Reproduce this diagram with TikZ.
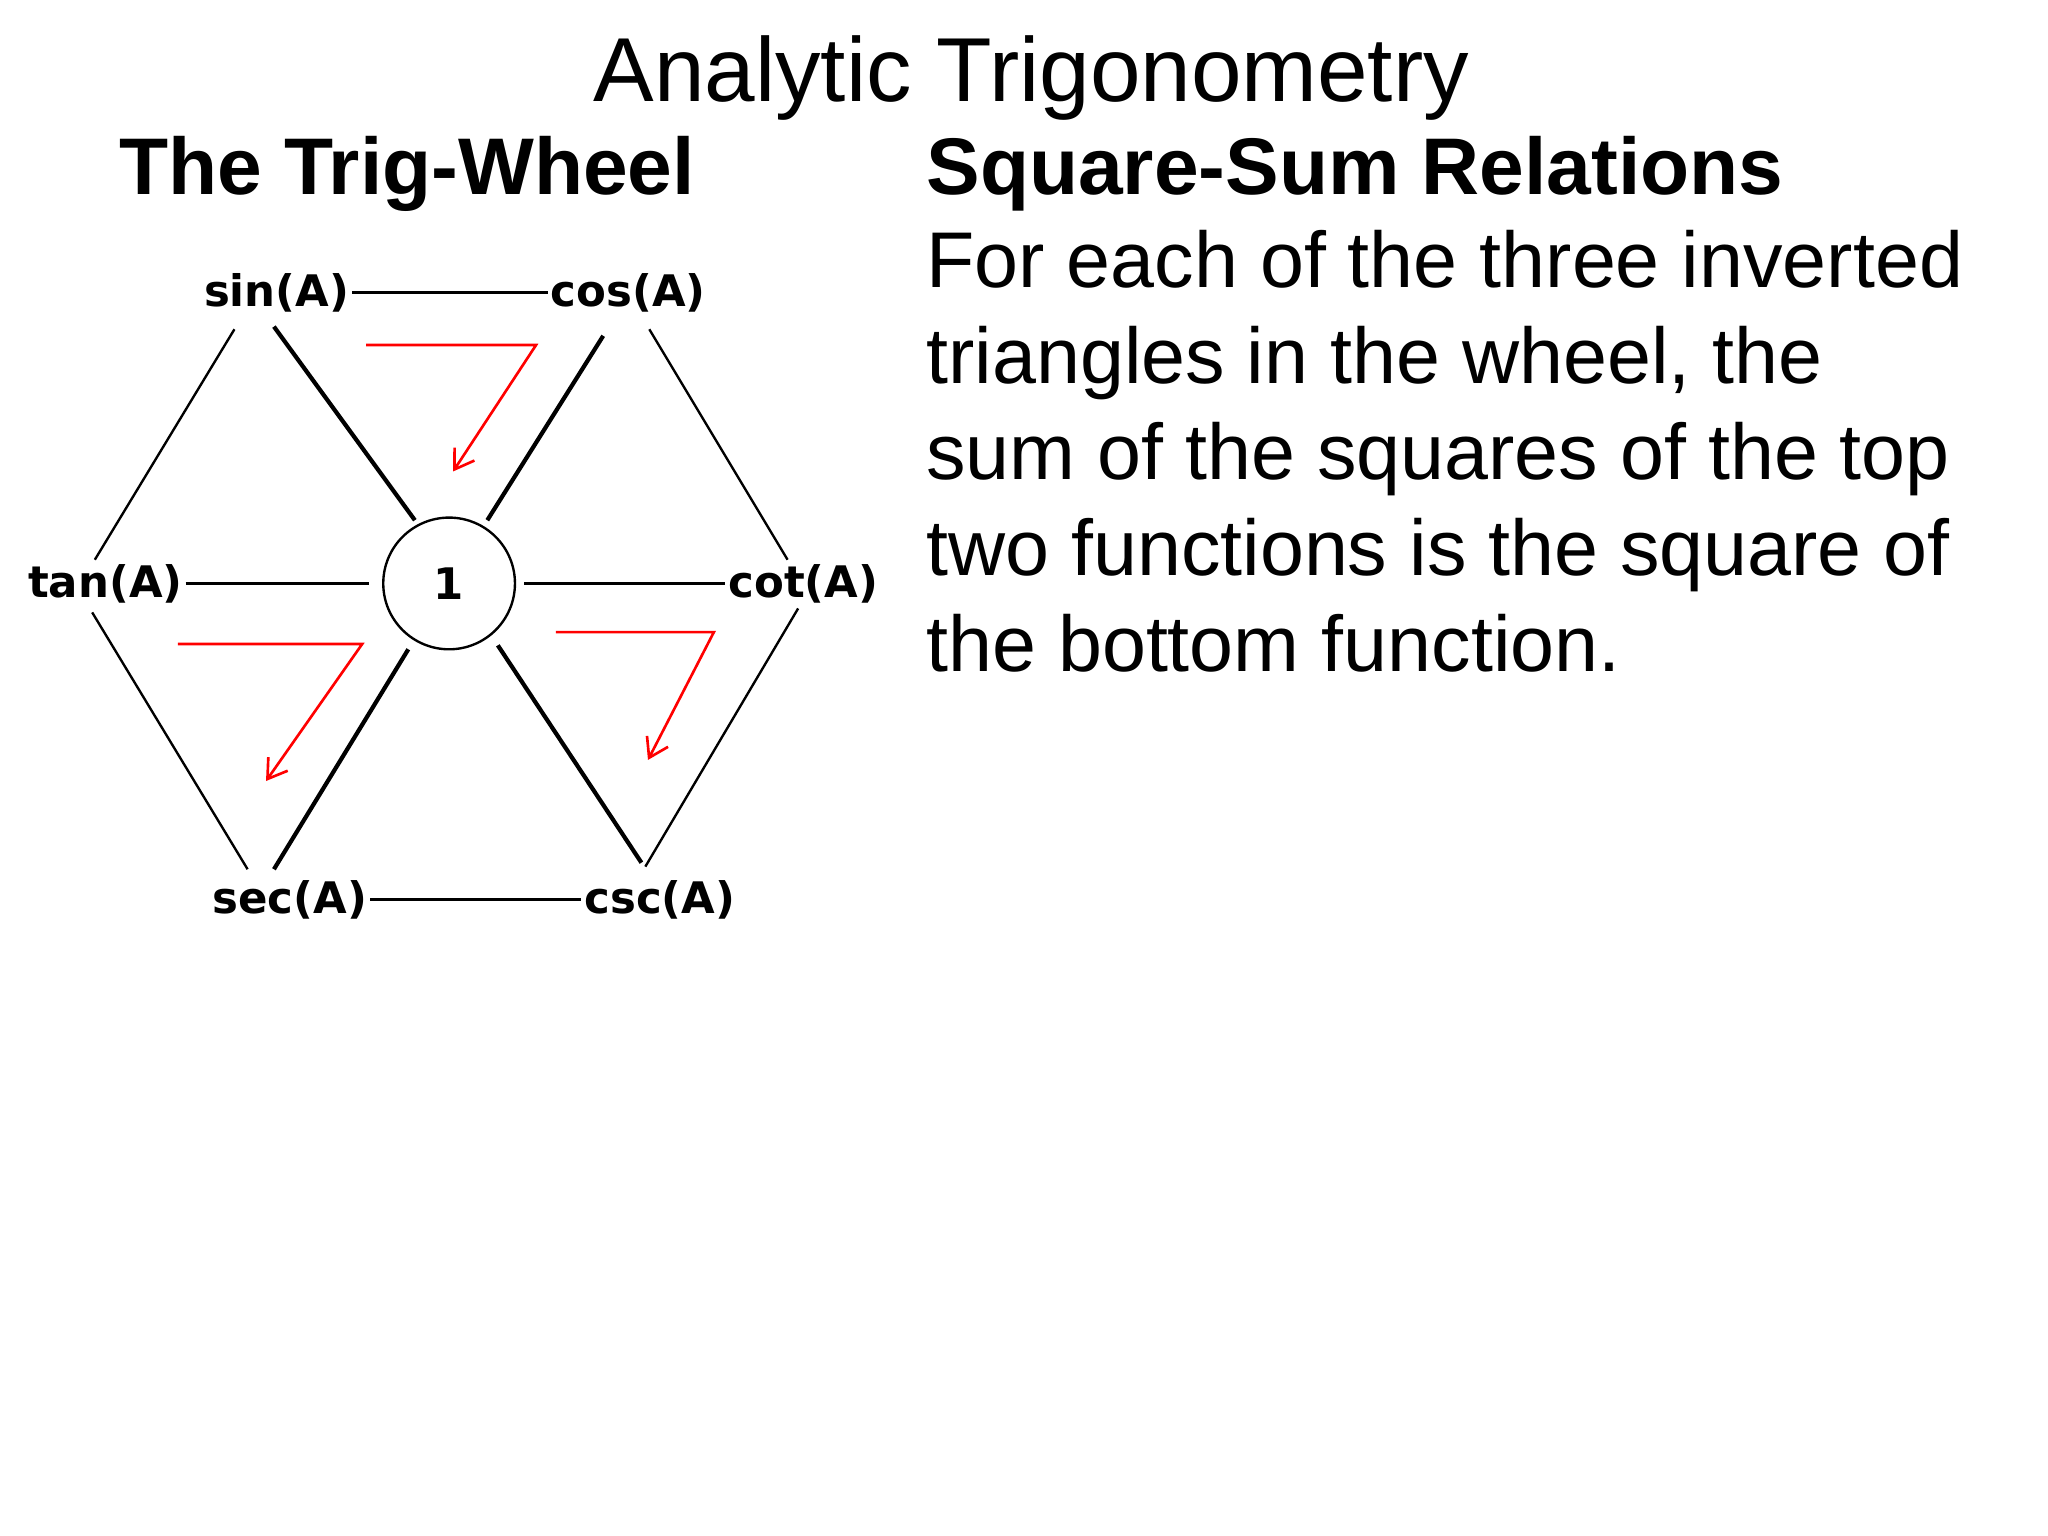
\documentclass[tikz,border=0pt]{standalone}
\usepackage{fontspec}
\usetikzlibrary{arrows.meta}
\setmainfont{Liberation Sans}
\newfontfamily\wheelfont{DejaVu Sans}
\begin{document}
\begin{tikzpicture}[x=0.5pt,y=-0.5pt]
\useasboundingbox (0,0) rectangle (1555,1166);
\tikzset{lab/.style={font=\wheelfont\bfseries\fontsize{16.5}{19}\selectfont,inner sep=1pt},
thin line/.style={line width=0.9pt},
spoke/.style={line width=1.6pt},
redarrow/.style={red,line width=1pt,-{Straight Barb[length=7pt,width=9pt]}},
body/.style={anchor=base west,font=\fontsize{30}{36}\selectfont,inner sep=0}}
\node[anchor=base,font=\fontsize{34.5}{40}\selectfont,inner sep=0] (title) at (783,77) {Analytic Trigonometry};
\node[anchor=base west,font=\bfseries\fontsize{30.5}{36}\selectfont,inner sep=0] (h1) at (90,148) {The Trig-Wheel};
\node[anchor=base west,font=\bfseries\fontsize{30.5}{36}\selectfont,inner sep=0] (h2) at (703,148) {Square-Sum Relations};
\node[body] (l1) at (703,218) {For each of the three inverted};
\node[body] (l2) at (703,291) {triangles in the wheel, the};
\node[body] (l3) at (703,364) {sum of the squares of the top};
\node[body] (l4) at (703,437) {two functions is the square of};
\node[body] (l5) at (703,510) {the bottom function.};
\node[lab] (sin) at (210,222) {sin(A)};
\node[lab] (cos) at (477,222) {cos(A)};
\node[lab] (tan) at (80,443) {tan(A)};
\node[lab] (cot) at (610,443) {cot(A)};
\node[lab] (sec) at (220,683) {sec(A)};
\node[lab] (csc) at (501,683) {csc(A)};
\node[circle,draw,line width=0.9pt,inner sep=0,minimum size=50pt,font=\wheelfont\bfseries\fontsize{16.5}{19}\selectfont] (one) at (341,443) {1};
\draw[thin line] (sin.east) -- (cos.west);
\draw[thin line] (tan.east) -- ([xshift=-5pt]one.west);
\draw[thin line] ([xshift=3pt]one.east) -- (cot.west);
\draw[thin line] (sec.east) -- (csc.west);
\coordinate (a1) at (178,250); \coordinate (a2) at (72,425);
\coordinate (b1) at (493,250); \coordinate (b2) at (598,425);
\coordinate (c1) at (70,465); \coordinate (c2) at (188,660);
\coordinate (d1) at (606,462); \coordinate (d2) at (490,658);
\draw[thin line] (a1) -- (a2); \draw[thin line] (b1) -- (b2);
\draw[thin line] (c1) -- (c2); \draw[thin line] (d1) -- (d2);
\coordinate (s1) at (208,248); \coordinate (s2) at (315,395);
\coordinate (s3) at (458,255); \coordinate (s4) at (370,395);
\coordinate (s5) at (310,493); \coordinate (s6) at (208,660);
\coordinate (s7) at (378,490); \coordinate (s8) at (487,655);
\draw[spoke] (s1) -- (s2); \draw[spoke] (s3) -- (s4);
\draw[spoke] (s5) -- (s6); \draw[spoke] (s7) -- (s8);
\coordinate (r1) at (278,262); \coordinate (r2) at (407,262); \coordinate (r3) at (344,358);
\coordinate (r4) at (135,489); \coordinate (r5) at (275,489); \coordinate (r6) at (202,593);
\coordinate (r7) at (422,480); \coordinate (r8) at (542,480); \coordinate (r9) at (492,577);
\draw[redarrow] (r1) -- (r2) -- (r3);
\draw[redarrow] (r4) -- (r5) -- (r6);
\draw[redarrow] (r7) -- (r8) -- (r9);
\end{tikzpicture}
\end{document}
